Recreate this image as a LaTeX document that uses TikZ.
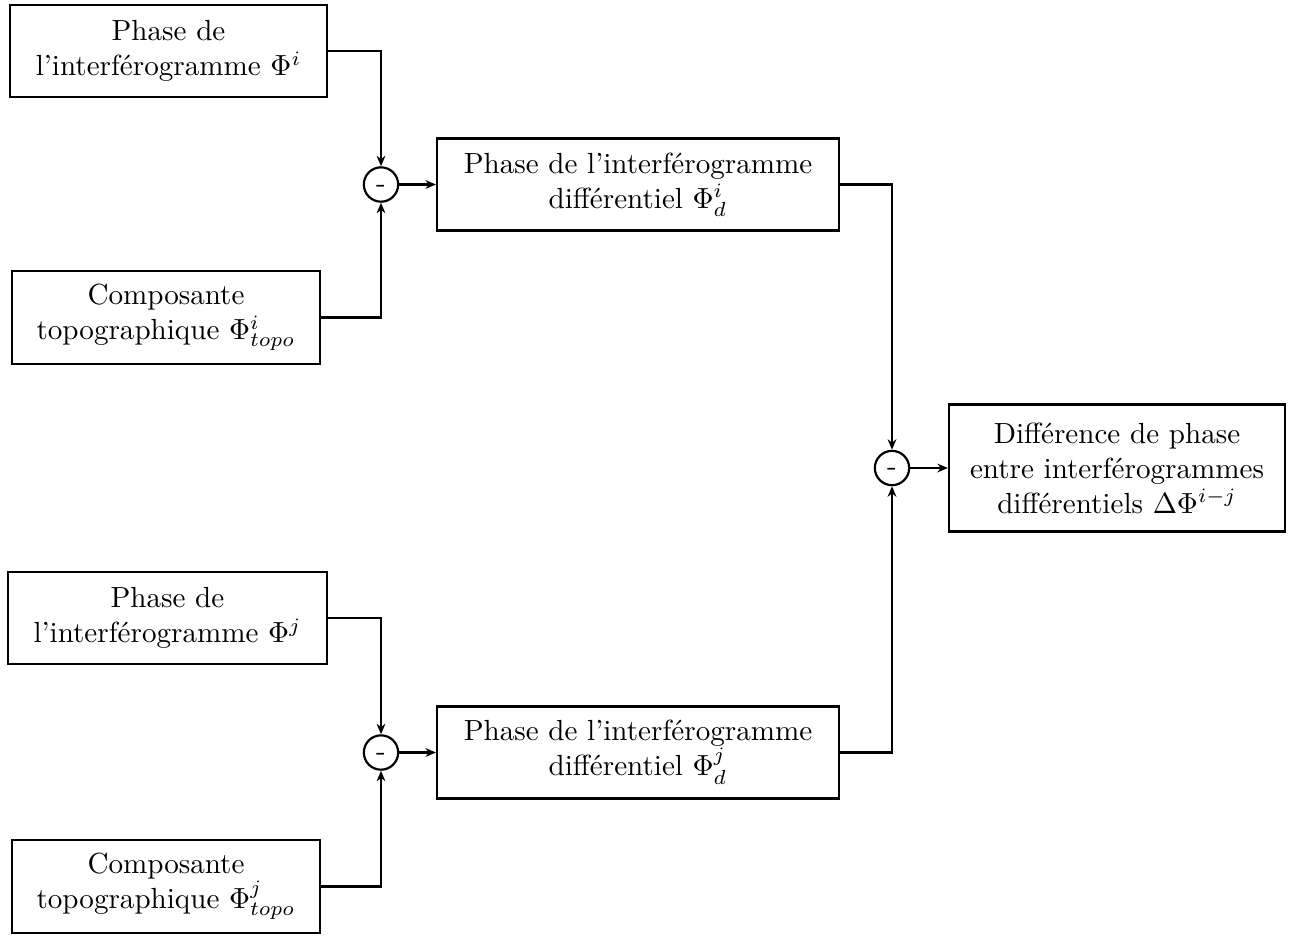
\documentclass[tikz,border=0pt]{standalone}
\usetikzlibrary{arrows.meta}
\begin{document}
\begin{tikzpicture}[x=0.3436pt,y=-0.3436pt,
  box/.style={draw,line width=0.75pt,align=center,inner sep=0pt},
  sumnode/.style={draw,circle,line width=0.75pt,minimum size=11.8pt,inner sep=0pt,text height=5.2pt,text depth=0pt},
  conn/.style={line width=0.75pt,-{Stealth[length=3.6pt,width=3pt]}}]
\useasboundingbox (0,0) rectangle (1297,936);
\node[box,minimum width=108.9pt,minimum height=31.6pt] (p1) at (168.5,51) {Phase de\\l'interférogramme $\Phi^{i}$};
\node[box,minimum width=105.8pt,minimum height=32pt] (c1) at (166,317.5) {Composante\\topographique $\Phi^{i}_{topo}$};
\node[sumnode] (s1) at (381,184.5) {-};
\node[box,minimum width=138.1pt,minimum height=31.6pt] (d1) at (638,184.5) {Phase de l'interférogramme\\différentiel $\Phi^{i}_{d}$};
\node[box,minimum width=109.6pt,minimum height=31.6pt] (p2) at (167.5,618) {Phase de\\l'interférogramme $\Phi^{j}$};
\node[box,minimum width=105.8pt,minimum height=32pt] (c2) at (166,886.5) {Composante\\topographique $\Phi^{j}_{topo}$};
\node[sumnode] (s2) at (381,752.5) {-};
\node[box,minimum width=138.1pt,minimum height=31.6pt] (d2) at (638,752.5) {Phase de l'interférogramme\\différentiel $\Phi^{j}_{d}$};
\node[sumnode] (s3) at (892,468) {-};
\node[box,minimum width=115.5pt,minimum height=43.6pt] (r) at (1117,468) {Différence de phase\\entre interférogrammes\\différentiels $\Delta\Phi^{i-j}$};
\draw[conn] (p1.east) -| (s1.north);
\draw[conn] (c1.east) -| (s1.south);
\draw[conn] (s1.east) -- (d1.west);
\draw[conn] (p2.east) -| (s2.north);
\draw[conn] (c2.east) -| (s2.south);
\draw[conn] (s2.east) -- (d2.west);
\draw[conn] (d1.east) -| (s3.north);
\draw[conn] (d2.east) -| (s3.south);
\draw[conn] (s3.east) -- (r.west);
\end{tikzpicture}
\end{document}
